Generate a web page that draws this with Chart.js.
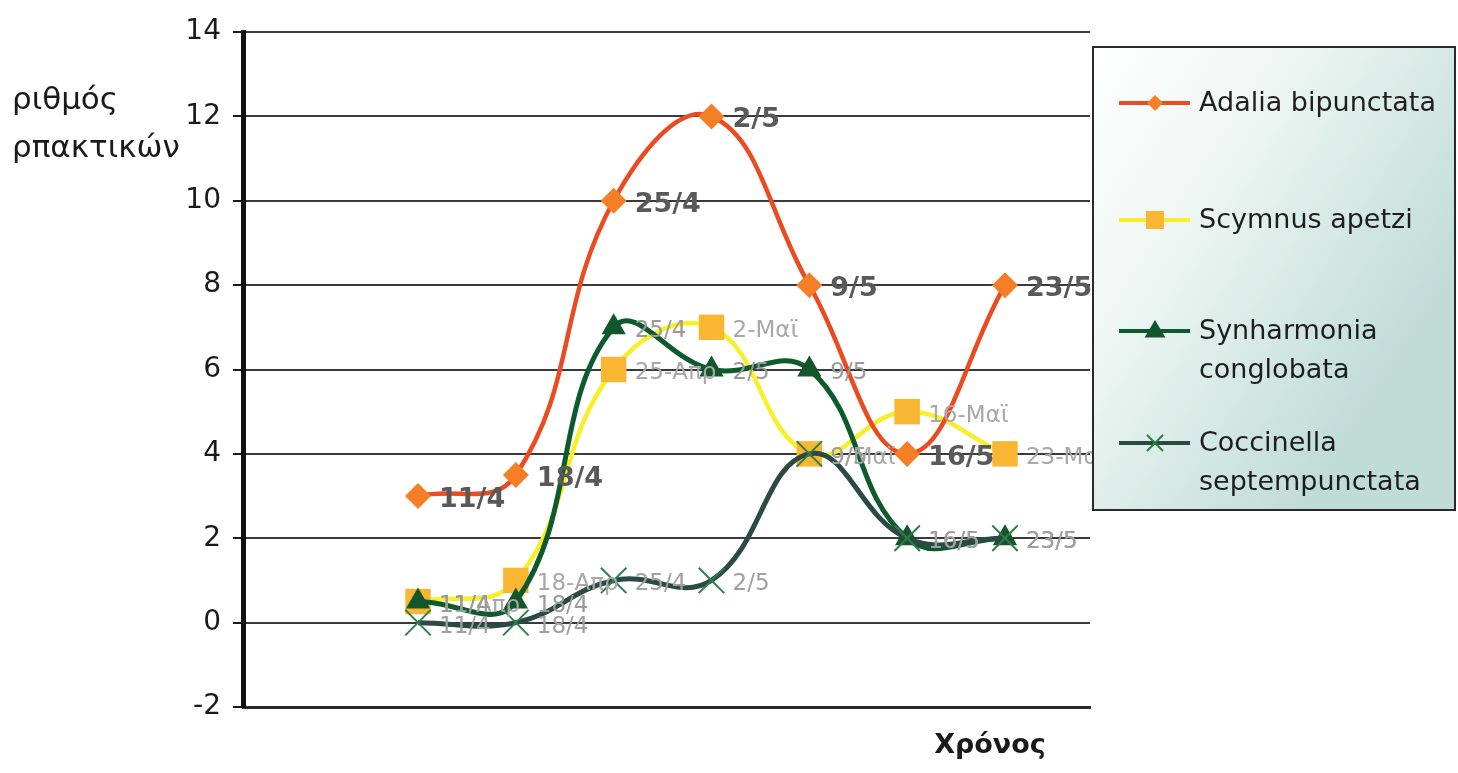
<!DOCTYPE html>
<html>
<head>
<meta charset="utf-8">
<script src="https://cdn.jsdelivr.net/npm/chart.js@4.4.1/dist/chart.umd.min.js"></script>
<style>
  html, body { margin: 0; padding: 0; background: #fff; }
  #wrap { position: relative; width: 1458px; height: 773px; }
</style>
</head>
<body>
<div id="wrap"><canvas id="chart" width="1458" height="773"></canvas></div>
<script>
// dates (x positions are just the index of each sampling date)
const dates = ['11/4', '18/4', '25/4', '2/5', '9/5', '16/5', '23/5'];
const datesGr = ['11/Απρ', '18-Απρ', '25-Απρ', '2-Μαϊ', '9/Μαϊ', '16-Μαϊ', '23-Μαϊ'];

const seriesNames = ['Adalia bipunctata', 'Scymnus apetzi', 'Synharmonia conglobata', 'Coccinella septempunctata'];

const adalia = [3, 3.5, 10, 12, 8, 4, 8];
const scymnus = [0.5, 1, 6, 7, 4, 5, 4];
const synharmonia = [0.5, 0.5, 7, 6, 6, 2, 2];
const coccinella = [0, 0, 1, 1, 4, 2, 2];

const yTicks = [-2, 0, 2, 4, 6, 8, 10, 12, 14];

const toPoints = arr => arr.map((v, i) => ({ x: i, y: v }));

// point labels next to every marker
const pointLabels = {
    id: 'pointLabels',
    afterDatasetsDraw(chart) {
        const { ctx } = chart;
        ctx.save();
        ctx.textBaseline = 'middle';
        ctx.textAlign = 'left';
        chart.data.datasets.forEach((ds, i) => {
            const meta = chart.getDatasetMeta(i);
            ctx.font = ds.labelFont;
            ctx.fillStyle = ds.labelColor;
            meta.data.forEach((pt, j) => {
                ctx.fillText(ds.pointText[j], pt.x + 21, pt.y + 4);
            });
        });
        ctx.restore();
    }
};

function marker(ctx, style, x, y, r, fill, stroke) {
    ctx.beginPath();
    if (style == 'rectRot') {
        ctx.moveTo(x - r, y); ctx.lineTo(x, y - r); ctx.lineTo(x + r, y); ctx.lineTo(x, y + r);
        ctx.closePath();
        ctx.fillStyle = fill; ctx.fill();
    } else if (style == 'rect') {
        ctx.rect(x - r, y - r, 2 * r, 2 * r);
        ctx.fillStyle = fill; ctx.fill();
    } else if (style == 'triangle') {
        ctx.moveTo(x, y - r); ctx.lineTo(x + r * 0.95, y + r * 0.6); ctx.lineTo(x - r * 0.95, y + r * 0.6);
        ctx.closePath();
        ctx.fillStyle = fill; ctx.fill();
    } else {
        ctx.moveTo(x - r, y - r); ctx.lineTo(x + r, y + r);
        ctx.moveTo(x + r, y - r); ctx.lineTo(x - r, y + r);
        ctx.strokeStyle = stroke; ctx.lineWidth = 2; ctx.stroke();
    }
}

// boxed legend on the right + axis titles
const sideLegend = {
    id: 'sideLegend',
    afterDraw(chart) {
        const { ctx } = chart;
        ctx.save();

        // axis titles
        ctx.fillStyle = '#1a1a1a';
        ctx.font = '31px "DejaVu Sans"';
        ctx.textBaseline = 'middle';
        ctx.textAlign = 'left';
        ctx.fillText('ριθμός', 12, 101);
        ctx.fillText('ρπακτικών', 12, 149);
        ctx.font = 'bold 27px "DejaVu Sans"';
        ctx.textAlign = 'center';
        ctx.fillText('Χρόνος', 990, 746);

        // legend box
        const bx = 1093, by = 47, bw = 362, bh = 463;
        const g = ctx.createLinearGradient(bx, by, bx + bw, by + bh * 0.5);
        g.addColorStop(0, '#ffffff');
        g.addColorStop(0.4, '#eef6f3');
        g.addColorStop(1, '#bfdcd5');
        ctx.fillStyle = g;
        ctx.fillRect(bx, by, bw, bh);
        ctx.strokeStyle = '#2a2a2a';
        ctx.lineWidth = 2;
        ctx.strokeRect(bx, by, bw, bh);

        const rows = [
            { y: 103, lines: ['Adalia bipunctata'] },
            { y: 220, lines: ['Scymnus apetzi'] },
            { y: 331, lines: ['Synharmonia', 'conglobata'] },
            { y: 443, lines: ['Coccinella', 'septempunctata'] }
        ];
        const sizes = [8, 9, 11, 8];
        chart.data.datasets.forEach((ds, i) => {
            const r = rows[i];
            ctx.beginPath();
            ctx.moveTo(1119, r.y);
            ctx.lineTo(1190, r.y);
            ctx.strokeStyle = ds.borderColor;
            ctx.lineWidth = 4;
            ctx.stroke();
            marker(ctx, ds.pointStyle, 1155, r.y, sizes[i], ds.pointBackgroundColor, ds.pointBorderColor);
            ctx.fillStyle = '#1e1e1e';
            ctx.font = '27px "DejaVu Sans"';
            ctx.textAlign = 'left';
            ctx.textBaseline = 'middle';
            r.lines.forEach((t, k) => ctx.fillText(t, 1199, r.y + 1 + k * 39));
        });
        ctx.restore();
    }
};

const data = {
    datasets: [
        {
            label: seriesNames[0],
            data: toPoints(adalia),
            pointText: dates,
            labelFont: 'bold 27px "DejaVu Sans"',
            labelColor: '#595959',
            borderColor: '#ea4b20',
            borderWidth: 4.5,
            pointStyle: 'rectRot',
            pointRadius: 13,
            pointBackgroundColor: '#f47f26',
            pointBorderColor: '#f47f26',
            pointBorderWidth: 0,
            order: 0
        },
        {
            label: seriesNames[1],
            data: toPoints(scymnus),
            pointText: datesGr,
            labelFont: '23px "DejaVu Sans"',
            labelColor: '#a8a8a8',
            borderColor: '#f8ee2a',
            borderWidth: 4.5,
            pointStyle: 'rect',
            pointRadius: 18,
            pointBackgroundColor: '#f8b633',
            pointBorderColor: '#f8b633',
            pointBorderWidth: 0,
            order: 3
        },
        {
            label: seriesNames[2],
            data: toPoints(synharmonia),
            pointText: dates,
            labelFont: '23px "DejaVu Sans"',
            labelColor: '#9a9a9a',
            borderColor: '#0d5a2c',
            borderWidth: 5,
            pointStyle: 'triangle',
            pointRadius: 14,
            pointBackgroundColor: '#14562b',
            pointBorderColor: '#14562b',
            pointBorderWidth: 0,
            order: 2
        },
        {
            label: seriesNames[3],
            data: toPoints(coccinella),
            pointText: dates,
            labelFont: '23px "DejaVu Sans"',
            labelColor: '#a0a0a0',
            borderColor: '#2b4a45',
            borderWidth: 5,
            pointStyle: 'crossRot',
            pointRadius: 18,
            pointBackgroundColor: '#2e7d4a',
            pointBorderColor: '#2e7d4a',
            pointBorderWidth: 2,
            order: 1
        }
    ]
};

const config = {
    type: 'line',
    data: data,
    options: {
        responsive: false,
        animation: false,
        clip: false,
        elements: { line: { tension: 0.42 } },
        layout: { padding: { top: 32, right: 368, bottom: 66, left: 0 } },
        plugins: {
            legend: { display: false },
            tooltip: { enabled: false }
        },
        scales: {
            x: {
                type: 'linear',
                min: -1.789,
                max: 6.869,
                ticks: { display: false },
                grid: { display: false, drawTicks: false },
                border: { display: true, color: '#2a2a2a', width: 3 },
                afterFit(s) { s.height = 0; }
            },
            y: {
                min: -2,
                max: 14,
                afterBuildTicks(s) { s.ticks = yTicks.map(v => ({ value: v })); },
                ticks: {
                    color: '#1a1a1a',
                    font: { family: 'DejaVu Sans', size: 28 },
                    padding: 12
                },
                grid: {
                    color: '#3a3a3a',
                    lineWidth: 2,
                    tickLength: 10,
                    tickColor: '#1a1a1a',
                    tickWidth: 2
                },
                border: { display: true, color: '#111', width: 5 },
                afterFit(s) { s.width = 243; }
            }
        }
    },
    plugins: [pointLabels, sideLegend]
};

const chart = new Chart(document.getElementById('chart'), config);
</script>
</body>
</html>
